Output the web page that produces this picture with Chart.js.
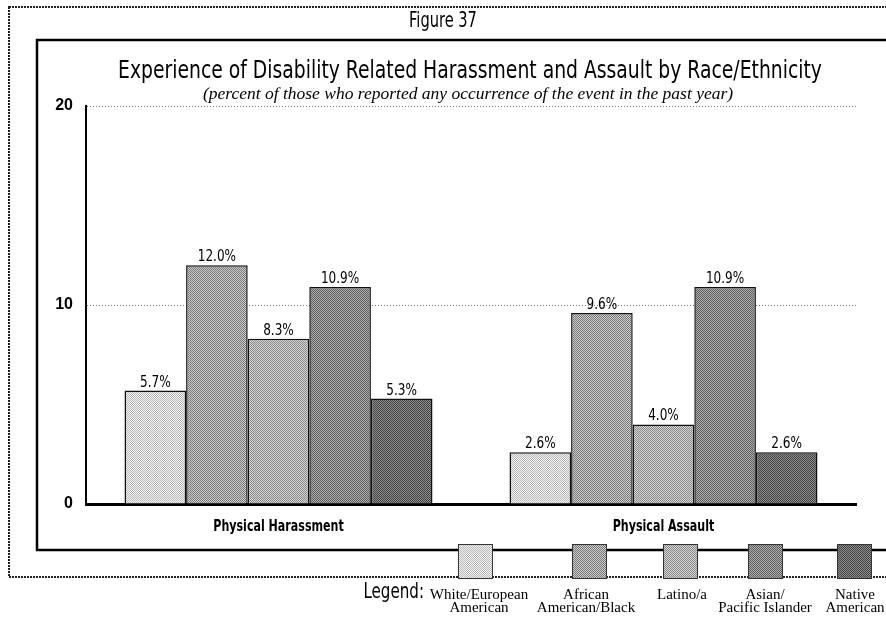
<!DOCTYPE html>
<html><head><meta charset="utf-8">
<script src="https://cdn.jsdelivr.net/npm/chart.js@4/dist/chart.umd.min.js"></script>
<style>html,body{margin:0;padding:0;background:#fff;overflow:hidden}#wrap{width:886px;height:617px}</style>
</head><body><div id="wrap"><canvas id="c" width="886" height="617"></canvas></div>
<script>
// ---- data ----
const figureLabel = 'Figure 37';
const chartTitle = 'Experience of Disability Related Harassment and Assault by Race/Ethnicity';
const chartSubtitle = '(percent of those who reported any occurrence of the event in the past year)';
const categories = ['Physical Harassment', 'Physical Assault'];
const groups = ['White/European American', 'African American/Black', 'Latino/a', 'Asian/Pacific Islander', 'Native American'];
const legendLines = [['White/European', 'American'], ['African', 'American/Black'], ['Latino/a'], ['Asian/', 'Pacific Islander'], ['Native', 'American']];
const whiteEuropean = [5.7, 2.6];
const africanAmerican = [12.0, 9.6];
const latino = [8.3, 4.0];
const asianPacific = [10.9, 10.9];
const nativeAmerican = [5.3, 2.6];
const yTicks = [0, 10, 20];
const legendWord = 'Legend:';

// ---- styles ----
const NARROW = '"DejaVu Sans Condensed", "Liberation Sans Narrow", sans-serif';
const SERIF = '"Liberation Serif", "DejaVu Serif", serif';
const shades = [['#f4f4f4', '#b8b8b8'], ['#cacaca', '#7a7a7a'], ['#d4d4d4', '#8a8a8a'], ['#acacac', '#606060'], ['#8c8c8c', '#444444']];
const canvas = document.getElementById('c');
const ctx = canvas.getContext('2d');
function halftone(a, b) {
  const c = document.createElement('canvas'); c.width = 2; c.height = 2;
  const g = c.getContext('2d');
  g.fillStyle = a; g.fillRect(0, 0, 2, 2);
  g.fillStyle = b; g.fillRect(0, 0, 1, 1); g.fillRect(1, 1, 1, 1);
  return ctx.createPattern(c, 'repeat');
}
const patterns = shades.map(s => halftone(s[0], s[1]));
const series = [whiteEuropean, africanAmerican, latino, asianPacific, nativeAmerican];

// legend layout (centres of swatches and of their captions)
const legendCenters = [475, 589, 680, 765, 854];
const legendTextCenters = [479, 586, 682, 765, 855];

// draw horizontally condensed text
function sText(c, text, x, y, sx) {
  c.save(); c.translate(x, y); c.scale(sx, 1); c.fillText(text, 0, 0); c.restore();
}

const decor = {
  id: 'decor',
  beforeDraw(chart) {
    const c = chart.ctx;
    c.save();
    c.fillStyle = '#fff'; c.fillRect(0, 0, chart.width, chart.height);
    // outer dotted frame
    c.strokeStyle = '#222'; c.lineWidth = 2; c.setLineDash([2, 1]);
    c.strokeRect(9, 7, 1000, 570);
    c.setLineDash([]);
    // inner frame
    c.strokeStyle = '#000'; c.lineWidth = 2.5;
    c.strokeRect(37, 40, 1000, 510);
    c.fillStyle = '#000'; c.textAlign = 'center'; c.textBaseline = 'middle';
    c.font = '22px ' + NARROW;
    sText(c, figureLabel, 443, 21, 0.74);
    c.font = '24px ' + NARROW;
    sText(c, chartTitle, 470, 72, 0.87);
    c.font = 'italic 17.5px ' + SERIF;
    c.fillText(chartSubtitle, 468, 94);
    c.restore();
  },
  afterDatasetsDraw(chart) {
    const c = chart.ctx;
    c.save();
    c.fillStyle = '#000'; c.textAlign = 'center'; c.textBaseline = 'alphabetic';
    c.font = '16px ' + NARROW;
    chart.data.datasets.forEach((ds, i) => {
      chart.getDatasetMeta(i).data.forEach((el, j) => {
        sText(c, ds.data[j].toFixed(1) + '%', el.x, el.y - 4, 0.84);
      });
    });
    // category labels under the axis
    const xs = chart.scales.x;
    c.font = 'bold 16px ' + NARROW; c.textBaseline = 'middle';
    categories.forEach((t, i) => sText(c, t, xs.getPixelForTick(i), 527, 0.77));
    c.restore();
  },
  afterDraw(chart) {
    const c = chart.ctx;
    c.save();
    // legend swatches
    chart.data.datasets.forEach((ds, i) => {
      const x = legendCenters[i] - 17, y = 544, w = 35, h = 35;
      c.fillStyle = ds.backgroundColor; c.fillRect(x, y, w, h);
      c.strokeStyle = '#333'; c.lineWidth = 1; c.strokeRect(x + 0.5, y + 0.5, w - 1, h - 1);
      c.fillStyle = '#000'; c.textAlign = 'center'; c.textBaseline = 'middle';
      c.font = '15px ' + SERIF;
      legendLines[i].forEach((t, k) => c.fillText(t, legendTextCenters[i], 595 + k * 13));
    });
    c.fillStyle = '#000'; c.textAlign = 'right'; c.textBaseline = 'middle';
    c.font = '21px ' + NARROW;
    sText(c, legendWord, 424, 593, 0.8);
    c.restore();
  }
};

new Chart(ctx, {
  type: 'bar',
  data: {
    labels: categories,
    datasets: groups.map((g, i) => ({
      label: g, data: series[i], backgroundColor: patterns[i],
      borderColor: '#111', borderWidth: 1.5, borderSkipped: 'bottom',
      categoryPercentage: 0.8, barPercentage: 1.0
    }))
  },
  options: {
    responsive: false, animation: false,
    layout: { padding: { left: 0, right: 30, top: 106, bottom: 0 } },
    plugins: { legend: { display: false }, title: { display: false }, tooltip: { enabled: false } },
    scales: {
      x: {
        z: 1,
        grid: { display: false, drawTicks: false },
        border: { display: true, color: '#000', width: 3 },
        ticks: { display: false },
        afterFit(s) { s.height = 617 - 504; }
      },
      y: {
        min: 0, max: 20,
        afterBuildTicks(s) { s.ticks = yTicks.map(v => ({ value: v })); },
        grid: { color: '#777', lineWidth: 1, drawTicks: false },
        border: { display: true, color: '#000', width: 2, dash: [1, 2] },
        ticks: { color: '#000', font: { family: '"Liberation Sans", sans-serif', size: 16, weight: 'bold' }, padding: 13 },
        afterFit(s) { s.width = 86; }
      }
    }
  },
  plugins: [decor]
});
</script></body></html>
